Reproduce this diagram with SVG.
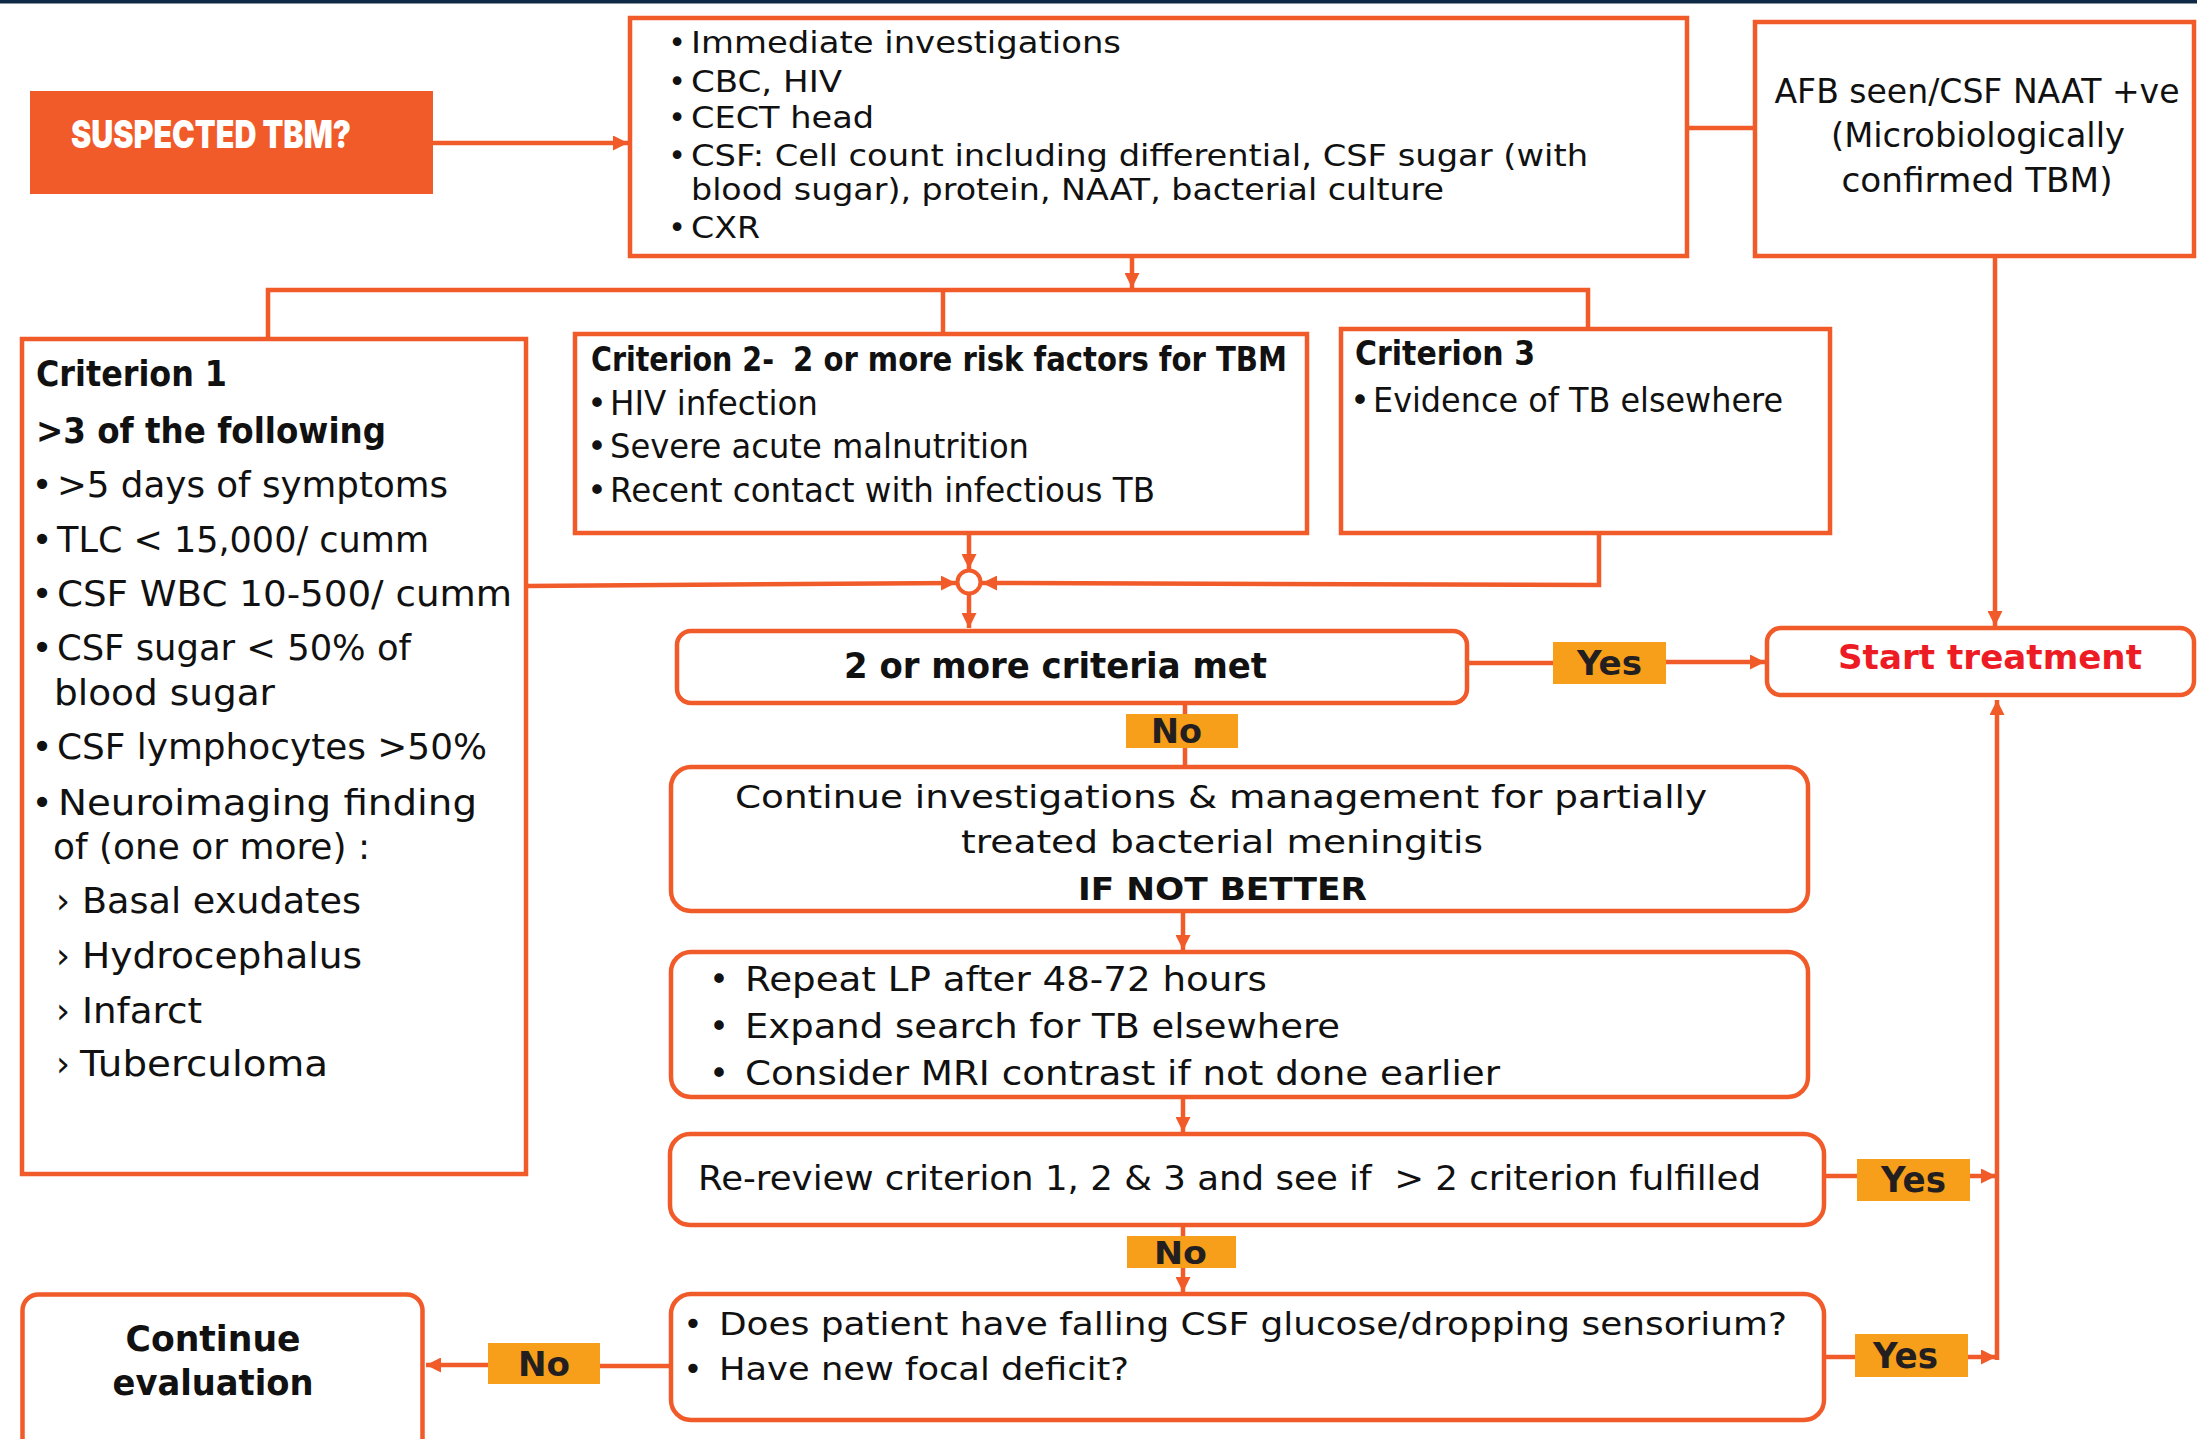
<svg xmlns="http://www.w3.org/2000/svg" width="2197" height="1439" viewBox="0 0 2197 1439">
<defs>
<style>
.box{fill:#fff;stroke:#F15A29;stroke-width:4.5}
.ln{fill:none;stroke:#F15A29;stroke-width:4.5}
.t{font-family:"DejaVu Sans",Inter,"Liberation Sans",sans-serif;fill:#111}
.b{font-weight:700}
.lbl{fill:#F79E1B}
.lt{font-family:"DejaVu Sans",Inter,"Liberation Sans",sans-serif;font-weight:700;fill:#231F20}
</style>
<marker id="ah" viewBox="0 0 10 10" refX="10" refY="5" markerUnits="userSpaceOnUse" markerWidth="15" markerHeight="15" orient="auto">
<path d="M0,0 L10,5 L0,10 z" fill="#F15A29"/>
</marker>
</defs>
<rect x="0" y="0" width="2197" height="3.5" fill="#0E2A47"/>

<g id="connectors">
<line class="ln" x1="433" y1="143" x2="628" y2="143" marker-end="url(#ah)"/>
<line class="ln" x1="1687" y1="128" x2="1755" y2="128"/>
<line class="ln" x1="1995" y1="256" x2="1995" y2="626" marker-end="url(#ah)"/>
<line class="ln" x1="1132" y1="256" x2="1132" y2="288" marker-end="url(#ah)"/>
<polyline class="ln" points="268,339 268,290 1588,290 1588,329"/>
<line class="ln" x1="943" y1="290" x2="943" y2="334"/>
<line class="ln" x1="969" y1="533" x2="969" y2="569" marker-end="url(#ah)"/>
<polyline class="ln" points="526,586 956,583" marker-end="url(#ah)"/>
<polyline class="ln" points="1599,533 1599,585 982,583" marker-end="url(#ah)"/>
<line class="ln" x1="969" y1="594" x2="969" y2="628" marker-end="url(#ah)"/>
<circle cx="969" cy="582" r="11.5" fill="#fff" stroke="#F15A29" stroke-width="4"/>
<line class="ln" x1="1467" y1="663" x2="1553" y2="663"/>
<line class="ln" x1="1666" y1="662" x2="1765" y2="662" marker-end="url(#ah)"/>
<line class="ln" x1="1185" y1="703" x2="1185" y2="767"/>
<line class="ln" x1="1183" y1="911" x2="1183" y2="950" marker-end="url(#ah)"/>
<line class="ln" x1="1183" y1="1097" x2="1183" y2="1132" marker-end="url(#ah)"/>
<line class="ln" x1="1824" y1="1176" x2="1857" y2="1176"/>
<line class="ln" x1="1970" y1="1176" x2="1996" y2="1176" marker-end="url(#ah)"/>
<line class="ln" x1="1183" y1="1225" x2="1183" y2="1292" marker-end="url(#ah)"/>
<line class="ln" x1="1824" y1="1357" x2="1855" y2="1357"/>
<line class="ln" x1="1968" y1="1357" x2="1996" y2="1357" marker-end="url(#ah)"/>
<line class="ln" x1="1997" y1="1360" x2="1997" y2="700" marker-end="url(#ah)"/>
<line class="ln" x1="671" y1="1366" x2="600" y2="1366"/>
<line class="ln" x1="488" y1="1365" x2="426" y2="1365" marker-end="url(#ah)"/>
</g>

<g id="suspected">
<rect x="30" y="91" width="403" height="103" fill="#F15A29"/>
<text x="71" y="148" font-family="Inter,'Liberation Sans',sans-serif" font-weight="900" font-size="38" fill="#fff" textLength="280" lengthAdjust="spacingAndGlyphs">SUSPECTED TBM?</text>
</g>

<g id="investigations" class="t" font-size="30">
<rect class="box" x="630" y="18" width="1057" height="238"/>
<text x="677" y="53" text-anchor="middle">•</text>
<text x="691" y="53" textLength="430" lengthAdjust="spacingAndGlyphs">Immediate investigations</text>
<text x="677" y="92" text-anchor="middle">•</text>
<text x="691" y="92" textLength="151" lengthAdjust="spacingAndGlyphs">CBC, HIV</text>
<text x="677" y="128" text-anchor="middle">•</text>
<text x="691" y="128" textLength="183" lengthAdjust="spacingAndGlyphs">CECT head</text>
<text x="677" y="166" text-anchor="middle">•</text>
<text x="691" y="166" textLength="897" lengthAdjust="spacingAndGlyphs">CSF: Cell count including differential, CSF sugar (with</text>
<text x="691" y="200" textLength="753" lengthAdjust="spacingAndGlyphs">blood sugar), protein, NAAT, bacterial culture</text>
<text x="677" y="238" text-anchor="middle">•</text>
<text x="691" y="238" textLength="69" lengthAdjust="spacingAndGlyphs">CXR</text>
</g>

<g id="afb" class="t" font-size="34">
<rect class="box" x="1755" y="22" width="439" height="234"/>
<text x="1977" y="103" text-anchor="middle" textLength="405" lengthAdjust="spacingAndGlyphs">AFB seen/CSF NAAT +ve</text>
<text x="1978" y="147" text-anchor="middle" textLength="294" lengthAdjust="spacingAndGlyphs">(Microbiologically</text>
<text x="1977" y="192" text-anchor="middle" textLength="271" lengthAdjust="spacingAndGlyphs">confirmed TBM)</text>
</g>

<g id="criterion1" class="t" font-size="35">
<rect class="box" x="22" y="339" width="504" height="835"/>
<text class="b" x="36" y="386" textLength="191" lengthAdjust="spacingAndGlyphs">Criterion 1</text>
<text class="b" x="36" y="443" textLength="350" lengthAdjust="spacingAndGlyphs">&gt;3 of the following</text>
<text x="42" y="497" text-anchor="middle">•</text>
<text x="57" y="497" textLength="391" lengthAdjust="spacingAndGlyphs">&gt;5 days of symptoms</text>
<text x="42" y="552" text-anchor="middle">•</text>
<text x="57" y="552" textLength="372" lengthAdjust="spacingAndGlyphs">TLC &lt; 15,000/ cumm</text>
<text x="42" y="606" text-anchor="middle">•</text>
<text x="57" y="606" textLength="455" lengthAdjust="spacingAndGlyphs">CSF WBC 10-500/ cumm</text>
<text x="42" y="660" text-anchor="middle">•</text>
<text x="57" y="660" textLength="354" lengthAdjust="spacingAndGlyphs">CSF sugar &lt; 50% of</text>
<text x="54" y="705" textLength="221" lengthAdjust="spacingAndGlyphs">blood sugar</text>
<text x="42" y="759" text-anchor="middle">•</text>
<text x="57" y="759" textLength="430" lengthAdjust="spacingAndGlyphs">CSF lymphocytes &gt;50%</text>
<text x="42" y="815" text-anchor="middle">•</text>
<text x="58" y="815" textLength="419" lengthAdjust="spacingAndGlyphs">Neuroimaging finding</text>
<text x="53" y="859" textLength="317" lengthAdjust="spacingAndGlyphs">of (one or more) :</text>
<text x="63" y="913" text-anchor="middle">›</text>
<text x="82" y="913" textLength="279" lengthAdjust="spacingAndGlyphs">Basal exudates</text>
<text x="63" y="968" text-anchor="middle">›</text>
<text x="82" y="968" textLength="280" lengthAdjust="spacingAndGlyphs">Hydrocephalus</text>
<text x="63" y="1023" text-anchor="middle">›</text>
<text x="82" y="1023" textLength="120" lengthAdjust="spacingAndGlyphs">Infarct</text>
<text x="63" y="1076" text-anchor="middle">›</text>
<text x="80" y="1076" textLength="248" lengthAdjust="spacingAndGlyphs">Tuberculoma</text>
</g>

<g id="criterion2" class="t" font-size="33">
<rect class="box" x="575" y="334" width="732" height="199"/>
<text class="b" x="591" y="371" textLength="183" lengthAdjust="spacingAndGlyphs">Criterion 2-</text>
<text x="793" y="371" font-weight="600" textLength="494" lengthAdjust="spacingAndGlyphs">2 or more risk factors for TBM</text>
<text x="597" y="415" text-anchor="middle">•</text>
<text x="610" y="415" textLength="208" lengthAdjust="spacingAndGlyphs">HIV infection</text>
<text x="597" y="458" text-anchor="middle">•</text>
<text x="610" y="458" textLength="419" lengthAdjust="spacingAndGlyphs">Severe acute malnutrition</text>
<text x="597" y="502" text-anchor="middle">•</text>
<text x="610" y="502" textLength="545" lengthAdjust="spacingAndGlyphs">Recent contact with infectious TB</text>
</g>

<g id="criterion3" class="t" font-size="33">
<rect class="box" x="1341" y="329" width="489" height="204"/>
<text class="b" x="1355" y="365" textLength="180" lengthAdjust="spacingAndGlyphs">Criterion 3</text>
<text x="1360" y="412" text-anchor="middle">•</text>
<text x="1373" y="412" textLength="410" lengthAdjust="spacingAndGlyphs">Evidence of TB elsewhere</text>
</g>

<g id="criteria-met" class="t" font-size="36">
<rect class="box" x="677" y="631" width="790" height="72" rx="14"/>
<text class="b" x="844" y="678" textLength="423" lengthAdjust="spacingAndGlyphs">2 or more criteria met</text>
</g>

<g id="start-treatment">
<rect class="box" x="1767" y="628" width="427" height="67" rx="14"/>
<text x="1838" y="669" font-family="'DejaVu Sans',Inter,'Liberation Sans',sans-serif" font-weight="700" font-size="34" fill="#ED1C24" textLength="304" lengthAdjust="spacingAndGlyphs">Start treatment</text>
</g>

<g id="label-yes-1">
<rect class="lbl" x="1553" y="642" width="113" height="42"/>
<text class="lt" x="1577" y="675" font-size="34" textLength="65" lengthAdjust="spacingAndGlyphs">Yes</text>
</g>

<g id="label-no-1">
<rect class="lbl" x="1126" y="714" width="112" height="34"/>
<text class="lt" x="1151" y="743" font-size="33" textLength="51" lengthAdjust="spacingAndGlyphs">No</text>
</g>

<g id="continue-investigations" class="t" font-size="32">
<rect class="box" x="671" y="767" width="1137" height="144" rx="20"/>
<text x="735" y="808" textLength="972" lengthAdjust="spacingAndGlyphs">Continue investigations &amp; management for partially</text>
<text x="961" y="853" textLength="522" lengthAdjust="spacingAndGlyphs">treated bacterial meningitis</text>
<text class="b" x="1078" y="900" textLength="289" lengthAdjust="spacingAndGlyphs">IF NOT BETTER</text>
</g>

<g id="repeat" class="t" font-size="33">
<rect class="box" x="671" y="952" width="1137" height="145" rx="20"/>
<text x="719" y="991" text-anchor="middle">•</text>
<text x="745" y="991" textLength="522" lengthAdjust="spacingAndGlyphs">Repeat LP after 48-72 hours</text>
<text x="719" y="1038" text-anchor="middle">•</text>
<text x="745" y="1038" textLength="595" lengthAdjust="spacingAndGlyphs">Expand search for TB elsewhere</text>
<text x="719" y="1085" text-anchor="middle">•</text>
<text x="745" y="1085" textLength="755" lengthAdjust="spacingAndGlyphs">Consider MRI contrast if not done earlier</text>
</g>

<g id="re-review" class="t" font-size="33">
<rect class="box" x="670" y="1134" width="1154" height="91" rx="20"/>
<text x="698" y="1190" xml:space="preserve" textLength="1063" lengthAdjust="spacingAndGlyphs">Re-review criterion 1, 2 &amp; 3 and see if  &gt; 2 criterion fulfilled</text>
</g>

<g id="label-yes-2">
<rect class="lbl" x="1857" y="1159" width="113" height="42"/>
<text class="lt" x="1881" y="1192" font-size="35" textLength="65" lengthAdjust="spacingAndGlyphs">Yes</text>
</g>

<g id="label-no-2">
<rect class="lbl" x="1127" y="1236" width="109" height="32"/>
<text class="lt" x="1154" y="1264" font-size="32" textLength="53" lengthAdjust="spacingAndGlyphs">No</text>
</g>

<g id="question" class="t" font-size="32">
<rect class="box" x="671" y="1294" width="1153" height="126" rx="20"/>
<text x="693" y="1335" text-anchor="middle">•</text>
<text x="719" y="1335" textLength="1068" lengthAdjust="spacingAndGlyphs">Does patient have falling CSF glucose/dropping sensorium?</text>
<text x="693" y="1380" text-anchor="middle">•</text>
<text x="719" y="1380" textLength="410" lengthAdjust="spacingAndGlyphs">Have new focal deficit?</text>
</g>

<g id="label-yes-3">
<rect class="lbl" x="1855" y="1334" width="113" height="43"/>
<text class="lt" x="1873" y="1368" font-size="35" textLength="65" lengthAdjust="spacingAndGlyphs">Yes</text>
</g>

<g id="label-no-3">
<rect class="lbl" x="488" y="1343" width="112" height="41"/>
<text class="lt" x="518" y="1376" font-size="33" textLength="52" lengthAdjust="spacingAndGlyphs">No</text>
</g>

<g id="continue-evaluation" class="t" font-size="35">
<rect class="box" x="22.5" y="1294.5" width="400" height="200" rx="16"/>
<text class="b" x="213" y="1351" text-anchor="middle" textLength="175" lengthAdjust="spacingAndGlyphs">Continue</text>
<text class="b" x="213" y="1395" text-anchor="middle" textLength="201" lengthAdjust="spacingAndGlyphs">evaluation</text>
</g>
</svg>
